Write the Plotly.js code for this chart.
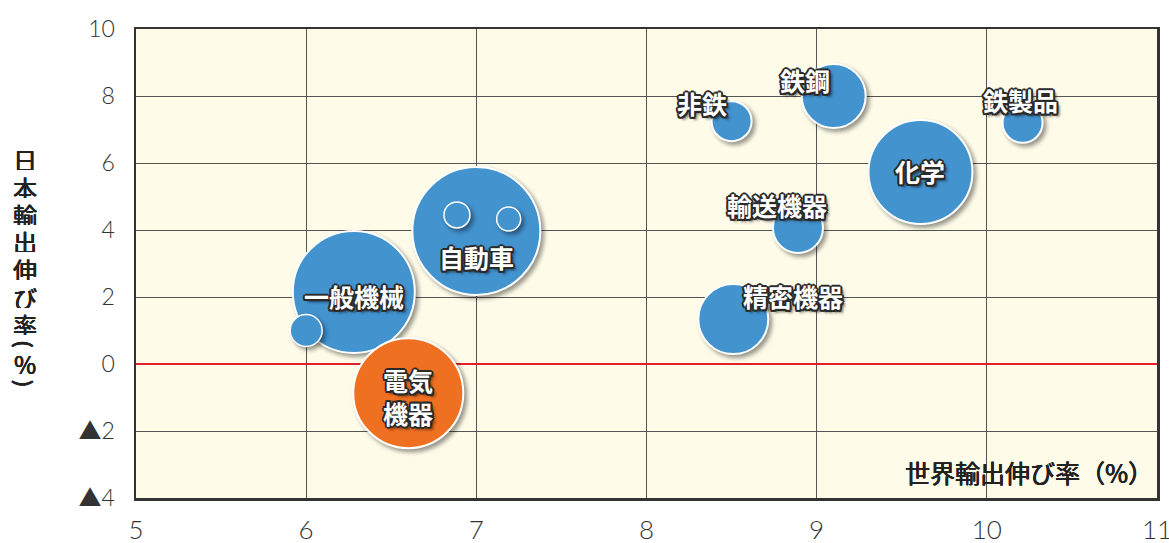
<!DOCTYPE html>
<html>
<head>
<meta charset="utf-8">
<script src="https://cdn.plot.ly/plotly-3.0.1.min.js"></script>
<style>
html,body{margin:0;padding:0;background:#fff;}
#chart{width:1169px;height:543px;}
.scatterlayer .trace .points path{filter:drop-shadow(3px 3px 2px rgba(0,0,0,0.4));}
</style>
</head>
<body>
<div id="chart"></div>
<script>
// ---- data ----
const categories = ['一般機械','自動車','非鉄','鉄鋼','鉄製品','化学','輸送機器','精密機器'];
const worldGrowth = [6.28, 7.0, 8.5, 9.1, 10.21, 9.61, 8.89, 8.51];
const japanGrowth = [2.15, 3.97, 7.25, 8.0, 7.2, 5.73, 4.06, 1.34];
const bubbleSize  = [122, 128, 40, 64, 40, 104, 50, 70];

const elecCategory = ['電気<br>機器'];
const elecWorld = [6.6];
const elecJapan = [-0.87];
const elecSize  = [110];

const smallWorld = [6.0, 6.886, 7.19];
const smallJapan = [1.0, 4.45, 4.33];
const smallSize  = [32, 26, 24];

const yTickVals = [-4, -2, 0, 2, 4, 6, 8, 10];
const yTickText = ['▲4', '▲2', '0', '2', '4', '6', '8', '10'];
const xTickVals = [5, 6, 7, 8, 9, 10, 11];
const xTickText = ['5', '6', '7', '8', '9', '10', '11'];

// vertical title: parentheses drawn rotated (vertical form)
const yTitleChars = ['日','本','輸','出','伸','び','率','(','%',')'];
const xTitle = '世界輸出伸び率（%）';

// ---- label offsets (px) ----
const labelShift = {
  '一般機械': [0, -4], '自動車': [0, -26], '非鉄': [-30, 18], '鉄鋼': [-29, 16],
  '鉄製品': [-2, 23], '化学': [0, 1], '輸送機器': [-21, 23], '精密機器': [60, 23]
};
const yTitleOffsets = [159, 187, 214, 241, 269, 297, 324, 344, 363, 383];

const BLUE = '#4393cf';
const ORANGE = '#f07021';
const OL = '#2a2a2a';
const labelFont = {
  family: '"Noto Sans CJK JP", sans-serif', size: 25, color: '#ffffff', weight: 700,
  shadow: `-1.5px -1.5px 0 ${OL}, 1.5px -1.5px 0 ${OL}, -1.5px 1.5px 0 ${OL}, 1.5px 1.5px 0 ${OL}, 0 -2px 0 ${OL}, 0 2px 0 ${OL}, -2px 0 0 ${OL}, 2px 0 0 ${OL}, 3px 3px 3px rgba(0,0,0,0.6)`
};
const titleFont = (sz) => ({
  family: '"Noto Sans CJK JP", sans-serif', size: sz, color: '#222', weight: 400,
  shadow: '0.5px 0 0 #222, -0.3px 0 0 #222, 0 0.4px 0 #222'
});

const traces = [
  {
    type: 'scatter', mode: 'markers',
    x: worldGrowth, y: japanGrowth, text: categories,
    marker: { size: bubbleSize, sizemode: 'diameter', color: BLUE, opacity: 1,
              line: { color: '#ffffff', width: 2 } },
    hoverinfo: 'text'
  },
  {
    type: 'scatter', mode: 'markers',
    x: elecWorld, y: elecJapan, text: elecCategory,
    marker: { size: elecSize, sizemode: 'diameter', color: ORANGE, opacity: 1,
              line: { color: '#ffffff', width: 2 } },
    hoverinfo: 'text'
  },
  {
    type: 'scatter', mode: 'markers',
    x: smallWorld, y: smallJapan,
    marker: { size: smallSize, sizemode: 'diameter', color: BLUE, opacity: 1,
              line: { color: '#ffffff', width: 1.5 } },
    hoverinfo: 'skip'
  }
];

const annotations = [];
categories.forEach((c, i) => {
  const s = labelShift[c];
  annotations.push({
    x: worldGrowth[i], y: japanGrowth[i], xref: 'x', yref: 'y',
    text: c, showarrow: false, xshift: s[0], yshift: s[1],
    font: labelFont, xanchor: 'center', yanchor: 'middle'
  });
});
annotations.push({
  x: elecWorld[0], y: elecJapan[0], xref: 'x', yref: 'y',
  text: elecCategory[0], showarrow: false, xshift: 0, yshift: -3,
  font: labelFont, xanchor: 'center', yanchor: 'middle'
});
// vertical y-axis title, one character per position
yTitleChars.forEach((ch, i) => {
  const py = yTitleOffsets[i];
  const paren = (ch === '(' || ch === ')');
  const a = {
    xref: 'paper', yref: 'paper', x: (25 - 136) / 1021, y: (498 - py) / 469,
    xanchor: 'center', yanchor: 'middle', text: ch, showarrow: false, borderpad: 0,
    font: titleFont(24)
  };
  if (paren) { a.textangle = 90; a.font = Object.assign(titleFont(24), { family: 'Lato, "Noto Sans", sans-serif' }); }
  else { a.height = 22; }
  annotations.push(a);
});
annotations.push({
  xref: 'paper', yref: 'paper', x: 1, y: 0.055, xanchor: 'right', yanchor: 'middle', xshift: -2,
  text: xTitle, showarrow: false,
  font: titleFont(25)
});

const tri = (s) => s.replace('▲', '<span style="font-family:\'Noto Sans CJK JP\';font-size:23px">▲</span>');

const layout = {
  width: 1169, height: 543,
  margin: { l: 136, r: 12, t: 29, b: 45, pad: 0 },
  paper_bgcolor: '#ffffff', plot_bgcolor: '#fefbe8',
  showlegend: false,
  xaxis: {
    range: [5, 11], tickvals: xTickVals, ticktext: xTickText,
    showgrid: true, gridcolor: '#555', gridwidth: 1, zeroline: false,
    showline: true, mirror: true, linecolor: '#333', linewidth: 2.5,
    ticks: '', ticklabelstandoff: 7, ticklabeloverflow: 'allow',
    tickfont: { family: 'Lato, "Noto Sans", sans-serif', size: 26, color: '#333', weight: 300 }
  },
  yaxis: {
    range: [-4, 10], tickvals: yTickVals, ticktext: yTickText.map(tri),
    showgrid: true, gridcolor: '#555', gridwidth: 1,
    zeroline: true, zerolinecolor: '#e0202a', zerolinewidth: 2,
    showline: true, mirror: true, linecolor: '#333', linewidth: 2.5,
    ticks: '', ticklabelstandoff: 14, ticklabeloverflow: 'allow',
    tickfont: { family: 'Lato, "Noto Sans", sans-serif', size: 23, color: '#333', weight: 300 }
  },
  annotations: annotations
};

Plotly.newPlot('chart', traces, layout, { displayModeBar: false, staticPlot: true });
</script>
</body>
</html>
